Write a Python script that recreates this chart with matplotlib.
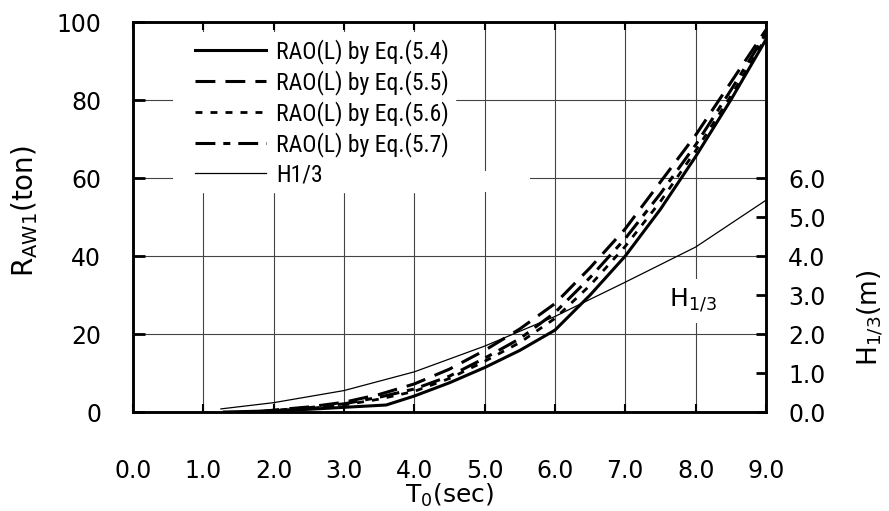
import matplotlib
matplotlib.use("Agg")
from matplotlib import pyplot as plt
from matplotlib import font_manager
from matplotlib.patches import Rectangle
from matplotlib.ticker import FormatStrFormatter, MultipleLocator

plt.rcParams["font.family"] = ["DejaVu Sans"]
plt.rcParams["mathtext.fontset"] = "dejavusans"

# wave added resistance by each RAO formula, T0 in sec, R in ton
t_54 = [1.3, 2.0, 2.5, 3.0, 3.6, 4.0, 4.5, 5.0, 5.5, 6.0, 6.5, 7.0, 7.5, 8.0, 8.5, 9.0]
r_54 = [0.0, 0.3, 0.7, 1.2, 1.8, 4.1, 7.5, 11.4, 15.8, 21.0, 30.0, 40.0, 52.0, 65.5, 80.0, 95.5]

t_55 = [1.8, 2.0, 2.5, 3.0, 3.5, 4.0, 4.5, 5.0, 5.5, 6.0, 6.5, 7.0, 7.5, 8.0, 8.5, 9.0]
r_55 = [0.0, 0.5, 1.3, 2.5, 4.5, 7.2, 11.0, 15.8, 21.3, 27.8, 37.0, 47.0, 59.0, 71.0, 84.5, 98.0]

t_56 = [1.7, 2.0, 2.5, 3.0, 3.5, 4.0, 4.5, 5.0, 5.5, 6.0, 6.5, 7.0, 7.5, 8.0, 8.5, 9.0]
r_56 = [0.0, 0.3, 0.9, 1.8, 3.3, 5.3, 8.6, 13.0, 17.8, 24.0, 32.5, 42.5, 54.0, 67.0, 81.0, 96.0]

t_57 = [1.7, 2.0, 2.5, 3.0, 3.5, 4.0, 4.5, 5.0, 5.5, 6.0, 6.5, 7.0, 7.5, 8.0, 8.5, 9.0]
r_57 = [0.0, 0.4, 1.1, 2.1, 3.8, 5.9, 9.2, 13.8, 18.8, 25.5, 34.5, 44.5, 56.0, 68.5, 82.5, 97.0]

# significant wave height, m
t_h = [1.25, 2.0, 3.0, 4.0, 5.0, 6.0, 7.0, 8.0, 9.0]
h_13 = [0.08, 0.24, 0.55, 1.03, 1.69, 2.45, 3.33, 4.23, 5.43]

x_ticks = [0, 1, 2, 3, 4, 5, 6, 7, 8, 9]
left_ticks = [0, 20, 40, 60, 80, 100]
right_ticks = [0, 1, 2, 3, 4, 5, 6]

labels = [
    "RAO(L) by Eq.(5.4)",
    "RAO(L) by Eq.(5.5)",
    "RAO(L) by Eq.(5.6)",
    "RAO(L) by Eq.(5.7)",
    "H1/3",
]


def narrow_font(size):
    # a condensed sans face keeps the legend block compact; plain DejaVu otherwise
    entries = font_manager.fontManager.ttflist
    for fam in ["Liberation Sans Narrow", "Roboto Condensed", "Open Sans Condensed"]:
        for f in entries:
            if f.name == fam and f.style == "normal" and f.weight in (400, "normal", "regular"):
                return font_manager.FontProperties(fname=f.fname, size=size), True
    for f in entries:
        if f.name in ("DejaVu Sans", "Roboto", "Open Sans", "Noto Sans") and f.style == "normal" \
                and f.stretch in ("condensed", "semi-condensed") and f.weight in (400, "normal", "regular"):
            return font_manager.FontProperties(fname=f.fname, size=size), True
    return font_manager.FontProperties(family="DejaVu Sans", size=size * 0.84), False


fig = plt.figure(figsize=(8.89, 5.11), dpi=100)
ax = fig.add_axes([0.1496, 0.1937, 0.7120, 0.7632])
ax2 = ax.twinx()

ax.set_xlim(0, 9)
ax.set_ylim(0, 100)
ax2.set_ylim(0, 10)

ax.set_axisbelow(True)
ax.xaxis.set_major_locator(MultipleLocator(1))
ax.yaxis.set_major_locator(MultipleLocator(10))
ax.grid(True, color="#444444", linewidth=0.8)

lw = 2.2
l1, = ax.plot(t_54, r_54, color="black", linewidth=lw, linestyle="-")
l2, = ax.plot(t_55, r_55, color="black", linewidth=lw, linestyle=(0, (6.5, 3.3)))
l3, = ax.plot(t_56, r_56, color="black", linewidth=2.0, linestyle=(0, (2.5, 2.9)))
l4, = ax.plot(t_57, r_57, color="black", linewidth=lw, linestyle=(0, (6.5, 2.6, 2.3, 2.6)))
l5, = ax2.plot(t_h, h_13, color="black", linewidth=0.9)

# white areas behind the legend block
ax.add_patch(Rectangle((0.57, 56.4), 3.97, 41.0, facecolor="white", edgecolor="none", zorder=1))
ax.add_patch(Rectangle((4.5, 56.4), 1.15, 5.5, facecolor="white", edgecolor="none", zorder=1))

ax.text(7.96, 28.5, r"H$_{1/3}$", fontsize=18, ha="center", va="center",
        bbox=dict(facecolor="white", edgecolor="none", boxstyle="square,pad=0.35"), zorder=3)

leg_font, is_narrow = narrow_font(17)
leg = ax2.legend(
    [l1, l2, l3, l4, l5], labels,
    loc="upper left", bbox_to_anchor=(0.089, 0.972), borderaxespad=0,
    frameon=True, fancybox=False, framealpha=1, edgecolor="white", facecolor="white",
    handlelength=3.0 if is_narrow else 3.3, handletextpad=0.42,
    labelspacing=0.26 if is_narrow else 0.5, borderpad=0.25,
    prop=leg_font,
)

ax.set_xticks(x_ticks)
ax.xaxis.set_major_formatter(FormatStrFormatter("%.1f"))
ax.set_yticks(left_ticks)
ax2.set_yticks(right_ticks)
ax2.yaxis.set_major_formatter(FormatStrFormatter("%.1f"))

ax.tick_params(axis="x", which="both", direction="in", top=True, length=6, width=1.5,
               labelsize=17, pad=34)
ax.tick_params(axis="y", which="major", direction="in", length=8.5, width=2,
               labelsize=17, pad=23)
ax.tick_params(axis="y", right=False)
ax2.tick_params(axis="y", direction="in", length=7.5, width=2, labelsize=17, pad=16)

for a in (ax, ax2):
    for s in a.spines.values():
        s.set_linewidth(1.8)

ax.set_xlabel(r"T$_0$(sec)", fontsize=18)
ax.xaxis.set_label_coords(0.5, -0.178)
ax.set_ylabel(r"R$_{\mathrm{AW1}}$(ton)", fontsize=20)
ax.yaxis.set_label_coords(-0.147, 0.515)
ax2.set_ylabel(r"H$_{1/3}$(m)", fontsize=19)
ax2.yaxis.set_label_coords(1.142, 0.241)

fig.savefig("out.png", dpi=100)
